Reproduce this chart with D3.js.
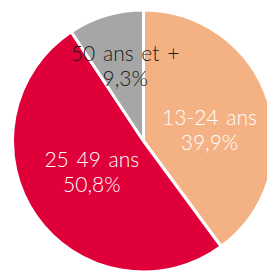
<!DOCTYPE html>
<html>
<head>
<meta charset="utf-8">
<script src="https://cdn.jsdelivr.net/npm/d3@7"></script>
<style>
  body { margin: 0; background: #fff; }
  svg { display: block; }
  text { font-family: Lato, "Open Sans", sans-serif; font-weight: 300; font-size: 21px; word-spacing: 2px; }
</style>
</head>
<body>
<svg id="chart" width="267" height="272"></svg>
<script>
// age groups, clockwise from 12 o'clock
const groups = ['13-24 ans', '25 49 ans', '50 ans et +'];
const shares = [39.9, 50.8, 9.3];
const shareLabels = ['39,9%', '50,8%', '9,3%'];
const colors = ['#F4B183', '#DF003A', '#A6A6A6'];
const textColors = ['#fff', '#fff', '#1a1a1a'];

// where the labels sit: angle nudge (deg) and fraction of radius
const labelPlace = [{ a: 9, k: 0.51 }, { a: 4, k: 0.46 }, { a: 3, k: 0.59 }];

const svg = d3.select('#chart');
const cx = 143.5, cy = 141, radius = 131;

const pie = d3.pie().sort(null).value(d => d);
const arcs = pie(shares);
const arc = d3.arc().innerRadius(0).outerRadius(radius);

const g = svg.append('g').attr('transform', `translate(${cx},${cy})`);

g.selectAll('path')
  .data(arcs)
  .enter()
  .append('path')
  .attr('d', arc)
  .attr('fill', (d, i) => colors[i])
  .attr('stroke', '#fff')
  .attr('stroke-width', 3)
  .attr('stroke-linejoin', 'round');

const labels = g.selectAll('g.label')
  .data(arcs)
  .enter()
  .append('g')
  .attr('class', 'label')
  .attr('transform', (d, i) => {
    const mid = (d.startAngle + d.endAngle) / 2 + labelPlace[i].a * Math.PI / 180;
    const r = radius * labelPlace[i].k;
    return `translate(${r * Math.sin(mid)},${-r * Math.cos(mid)})`;
  });

labels.append('text')
  .attr('text-anchor', 'middle')
  .attr('y', -5)
  .attr('fill', (d, i) => textColors[i])
  .text((d, i) => groups[i]);

labels.append('text')
  .attr('text-anchor', 'middle')
  .attr('y', 20)
  .attr('fill', (d, i) => textColors[i])
  .text((d, i) => shareLabels[i]);
</script>
</body>
</html>
